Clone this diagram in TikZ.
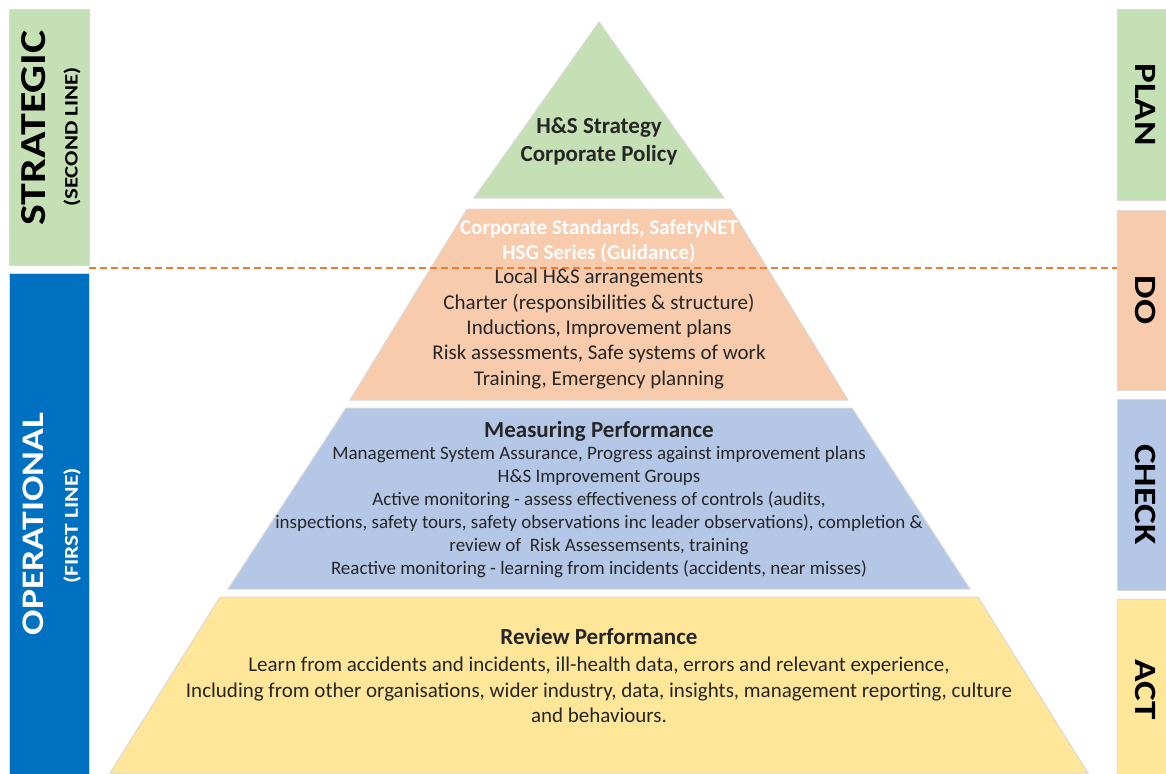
\documentclass[tikz,border=0pt]{standalone}
\usepackage{fontspec}
\setmainfont{Carlito}
\newfontfamily\tallfont[FakeStretch=1.2]{Carlito}

\definecolor{planGreen}{HTML}{C5E0B4}
\definecolor{doOrange}{HTML}{F8CBAD}
\definecolor{checkBlue}{HTML}{B4C7E7}
\definecolor{actYellow}{HTML}{FFE699}
\definecolor{opsBlue}{HTML}{0070C0}
\definecolor{lineOrange}{HTML}{ED7D31}

\begin{document}
\begin{tikzpicture}[x=1pt, y=-1pt,
    layer/.style={draw=black!15, line width=1pt},
    bar/.style={draw=black!15, line width=0.8pt, inner sep=0pt, font=\tallfont\bfseries\fontsize{31}{34}\selectfont},
    txt/.style={align=center, text=black!85, inner sep=0pt},
    sidetxt/.style={inner sep=0pt, rotate=90},
    splitline/.style={lineOrange, line width=1.3pt, dash pattern=on 7pt off 4pt},
  ]
  \clip (0,0) rectangle (1166,773);

  % pyramid, top to bottom
  \draw[layer, fill=planGreen] (599,22) -- (724,198) -- (474,198) -- cycle;
  \draw[layer, fill=doOrange] (467,209) -- (731,209) -- (848,400) -- (350,400) -- cycle;
  \draw[layer, fill=checkBlue] (346,408) -- (852,408) -- (970,589) -- (228,589) -- cycle;
  \draw[layer, fill=actYellow] (220,597) -- (978,597) -- (1088,773) -- (110,773) -- cycle;

  % left hand bars
  \node[bar, fill=planGreen, minimum width=80pt, minimum height=256pt] (strategicbar) at (49,137) {};
  \node[bar, fill=opsBlue, minimum width=80pt, minimum height=510pt] (operationalbar) at (49,528) {};
  \node[sidetxt, font=\tallfont\bfseries\fontsize{36.6}{40}\selectfont] (strategic) at (34,128) {STRATEGIC};
  \node[sidetxt, font=\tallfont\bfseries\fontsize{19}{22}\selectfont] (secondline) at (72,137) {(SECOND LINE)};
  \node[sidetxt, text=white, font=\tallfont\bfseries\fontsize{31.4}{34}\selectfont] (operational) at (33,524) {OPERATIONAL};
  \node[sidetxt, text=white, font=\tallfont\bfseries\fontsize{19.6}{22}\selectfont] (firstline) at (72,526) {(FIRST LINE)};

  % PDCA bars on the right
  \node[bar, rotate=-90, fill=planGreen, minimum width=191pt, minimum height=58pt] (plan) at (1146,104.5) {PLAN};
  \node[bar, rotate=-90, fill=doOrange, minimum width=180pt, minimum height=58pt] (do) at (1146,300) {DO};
  \node[bar, rotate=-90, fill=checkBlue, minimum width=191pt, minimum height=58pt] (check) at (1146,494.5) {CHECK};
  \node[bar, rotate=-90, fill=actYellow, minimum width=182pt, minimum height=58pt] (act) at (1146,690) {ACT};

  % strategic / operational split
  \coordinate (splitL) at (89,268);
  \coordinate (splitR) at (1117,268);
  \draw[splitline] (splitL) -- (splitR);

  % layer texts
  \node[txt, font=\fontsize{23}{28}\selectfont\bfseries] (strategy) at (599,141) {H\&S Strategy\\Corporate Policy};
  \node[txt, text=white, font=\fontsize{21}{25.3}\selectfont\bfseries] (standards) at (599,241) {Corporate Standards, SafetyNET\\HSG Series (Guidance)};
  \node[txt, font=\fontsize{21}{25.3}\selectfont] (local) at (599,329) {Local H\&S arrangements\\Charter (responsibilities \& structure)\\Inductions, Improvement plans\\Risk assessments, Safe systems of work\\Training, Emergency planning};
  \node[txt, font=\fontsize{23}{28}\selectfont\bfseries] (measuring) at (599,431) {Measuring Performance};
  \node[txt, font=\fontsize{19}{23}\selectfont] (monitoring) at (599,512) {Management System Assurance, Progress against improvement plans\\H\&S Improvement Groups\\Active monitoring - assess effectiveness of controls (audits,\\inspections, safety tours, safety observations inc leader observations), completion \&\\review of~ Risk Assessemsents, training\\Reactive monitoring - learning from incidents (accidents, near misses)};
  \node[txt, font=\fontsize{23}{28}\selectfont\bfseries] (review) at (599,637) {Review Performance};
  \node[txt, font=\fontsize{21}{25.6}\selectfont] (learn) at (599,690) {Learn from accidents and incidents, ill-health data, errors and relevant experience,\\Including from other organisations, wider industry, data, insights, management reporting, culture\\and behaviours.};
\end{tikzpicture}
\end{document}
